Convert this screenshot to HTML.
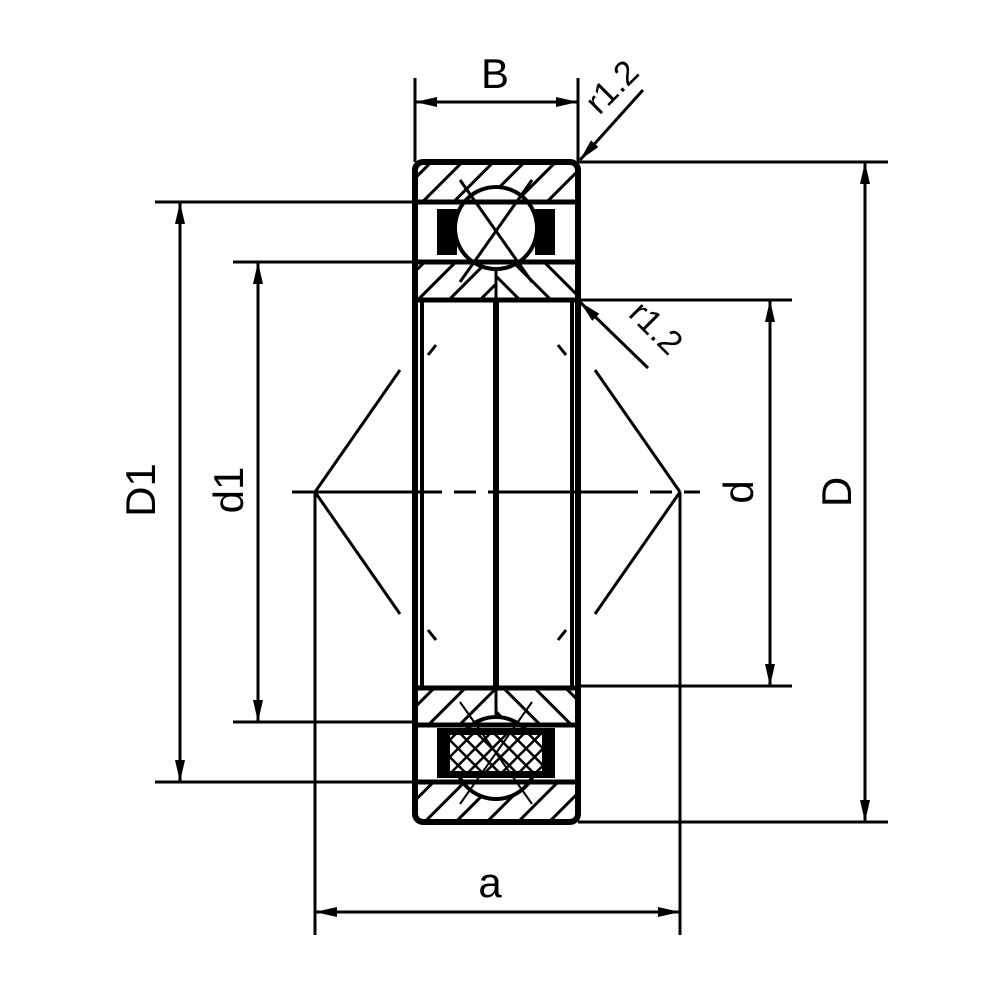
<!DOCTYPE html>
<html><head><style>body{margin:0;background:#fff}svg{display:block}</style></head><body>
<svg width="1000" height="1000" viewBox="0 0 1000 1000" xmlns="http://www.w3.org/2000/svg">
<defs>
<pattern id="hf" patternUnits="userSpaceOnUse" width="22" height="22" patternTransform="rotate(45)"><rect width="22" height="22" fill="#fff"/><line x1="0" y1="0" x2="0" y2="22" stroke="#000" stroke-width="6"/></pattern>
<pattern id="hb" patternUnits="userSpaceOnUse" width="22" height="22" patternTransform="rotate(-45)"><rect width="22" height="22" fill="#fff"/><line x1="0" y1="0" x2="0" y2="22" stroke="#000" stroke-width="6"/></pattern>
<pattern id="xh" patternUnits="userSpaceOnUse" width="12" height="12" patternTransform="rotate(45)"><rect width="12" height="12" fill="#fff"/><line x1="0" y1="0" x2="12" y2="0" stroke="#000" stroke-width="5"/><line x1="0" y1="0" x2="0" y2="12" stroke="#000" stroke-width="5"/></pattern>
<marker id="ar" viewBox="0 0 22 10" refX="22" refY="5" markerWidth="22" markerHeight="10" markerUnits="userSpaceOnUse" orient="auto-start-reverse"><path d="M0,0 L22,5 L0,10 z" fill="#000"/></marker>
</defs>
<g stroke="#000" fill="none">
<rect x="417" y="164" width="159" height="38" fill="url(#hf)" stroke="none"/>
<rect x="417" y="782" width="159" height="38" fill="url(#hf)" stroke="none"/>
<rect x="417" y="262" width="79" height="38" fill="url(#hf)" stroke="none"/>
<rect x="496" y="262" width="80" height="38" fill="url(#hb)" stroke="none"/>
<rect x="417" y="688" width="79" height="37" fill="url(#hf)" stroke="none"/>
<rect x="496" y="688" width="80" height="37" fill="url(#hb)" stroke="none"/>
<circle cx="496" cy="758" r="41" fill="#fff" stroke-width="4"/>
<rect x="437" y="209" width="20" height="46" fill="#000" stroke="none"/>
<rect x="535" y="209" width="20" height="46" fill="#000" stroke="none"/>
<rect x="437" y="728" width="118" height="50" fill="#000" stroke="none"/>
<rect x="450" y="735" width="92" height="36" fill="url(#xh)" stroke="none"/>
<circle cx="496" cy="228" r="41" fill="#fff" stroke-width="4"/>
<line x1="460" y1="180" x2="532" y2="282" stroke-width="3"/>
<line x1="532" y1="180" x2="460" y2="282" stroke-width="3"/>
<line x1="460" y1="804" x2="532" y2="702" stroke-width="2"/>
<line x1="532" y1="804" x2="460" y2="702" stroke-width="2"/>
<rect x="415" y="162" width="163" height="660" rx="8" stroke-width="6"/>
<line x1="415" y1="202" x2="578" y2="202" stroke-width="5"/>
<line x1="415" y1="262" x2="578" y2="262" stroke-width="5"/>
<line x1="415" y1="300" x2="578" y2="300" stroke-width="5"/>
<line x1="415" y1="688" x2="578" y2="688" stroke-width="5"/>
<line x1="415" y1="725" x2="578" y2="725" stroke-width="5"/>
<line x1="415" y1="782" x2="578" y2="782" stroke-width="5"/>
<line x1="422" y1="300" x2="422" y2="688" stroke-width="4"/>
<line x1="572" y1="300" x2="572" y2="688" stroke-width="4"/>
<line x1="496" y1="300" x2="496" y2="688" stroke-width="6"/>
<line x1="496" y1="268" x2="496" y2="300" stroke-width="3"/>
<line x1="496" y1="688" x2="496" y2="716" stroke-width="3"/>
<line x1="292" y1="492" x2="700" y2="492" stroke-width="3" stroke-dasharray="150,12,22,12"/>
<g stroke-width="3">
<line x1="315" y1="492" x2="400" y2="370"/><line x1="315" y1="492" x2="400" y2="614"/>
<line x1="680" y1="492" x2="595" y2="370"/><line x1="680" y1="492" x2="595" y2="614"/>
<line x1="428" y1="355" x2="436" y2="345"/><line x1="566" y1="355" x2="558" y2="345"/>
<line x1="428" y1="630" x2="436" y2="640"/><line x1="566" y1="630" x2="558" y2="640"/>
</g>
<g stroke-width="3">
<line x1="415" y1="78" x2="415" y2="162"/><line x1="578" y1="78" x2="578" y2="162"/>
<line x1="578" y1="162" x2="888" y2="162"/><line x1="578" y1="822" x2="888" y2="822"/>
<line x1="578" y1="300" x2="792" y2="300"/><line x1="578" y1="686" x2="792" y2="686"/>
<line x1="155" y1="202" x2="415" y2="202"/><line x1="155" y1="782" x2="415" y2="782"/>
<line x1="233" y1="262" x2="415" y2="262"/><line x1="233" y1="722" x2="415" y2="722"/>
<line x1="315" y1="492" x2="315" y2="935"/><line x1="680" y1="492" x2="680" y2="935"/>
</g>
<g stroke-width="3" marker-start="url(#ar)" marker-end="url(#ar)">
<line x1="415" y1="102" x2="578" y2="102"/>
<line x1="865" y1="162" x2="865" y2="822"/>
<line x1="770" y1="300" x2="770" y2="686"/>
<line x1="180" y1="202" x2="180" y2="782"/>
<line x1="258" y1="262" x2="258" y2="722"/>
<line x1="315" y1="912" x2="680" y2="912"/>
</g>
<line x1="643" y1="90" x2="580" y2="160" stroke-width="3" marker-end="url(#ar)"/>
<line x1="648" y1="368" x2="580" y2="302" stroke-width="3" marker-end="url(#ar)"/>
</g>
<g font-family="Liberation Sans, sans-serif" font-size="42" fill="#000" text-anchor="middle">
<text x="495" y="88">B</text>
<text x="490" y="897">a</text>
<text transform="translate(155,490) rotate(-90)">D1</text>
<text transform="translate(243,490) rotate(-90)">d1</text>
<text transform="translate(753,492) rotate(-90)">d</text>
<text transform="translate(851,492) rotate(-90)">D</text>
<text font-size="34" transform="translate(620,95) rotate(-45)">r1.2</text>
<text font-size="34" transform="translate(648,336) rotate(45)">r1.2</text>
</g>
</svg>
</body></html>
